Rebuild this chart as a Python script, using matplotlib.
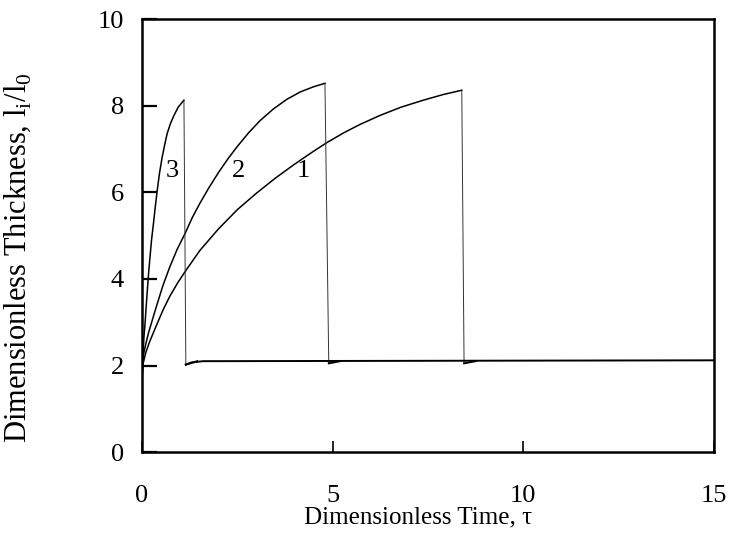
import matplotlib
matplotlib.use("Agg")
import matplotlib.pyplot as plt

plt.rcParams["font.family"] = ["Liberation Serif", "DejaVu Serif"]
plt.rcParams["mathtext.fontset"] = "custom"
plt.rcParams["mathtext.rm"] = "Liberation Serif"

# growth branch of each run, then the drop back to the base thickness
tau_1 = [0, 0.03, 0.1, 0.2, 0.39, 0.55, 0.73, 0.95, 1.17, 1.52, 2.0, 2.5, 3.0, 3.5,
         4.0, 4.5, 4.85, 5.3, 5.72, 6.25, 6.8, 7.38, 7.9, 8.39]
l_1 = [1.7, 2.05, 2.3, 2.55, 2.95, 3.28, 3.6, 3.93, 4.22, 4.66, 5.15, 5.6, 5.98, 6.33,
       6.65, 6.95, 7.15, 7.38, 7.57, 7.78, 7.97, 8.13, 8.26, 8.36]

tau_2 = [0, 0.02, 0.05, 0.1, 0.17, 0.27, 0.39, 0.55, 0.73, 0.92, 1.13, 1.32, 1.52,
         1.75, 2.0, 2.25, 2.49, 2.8, 3.1, 3.45, 3.8, 4.15, 4.5, 4.8]
l_2 = [1.7, 2.1, 2.3, 2.5, 2.75, 3.05, 3.4, 3.85, 4.28, 4.68, 5.05, 5.42, 5.75,
       6.1, 6.45, 6.77, 7.05, 7.38, 7.66, 7.93, 8.15, 8.32, 8.44, 8.52]

tau_3 = [0, 0.01, 0.03, 0.05, 0.08, 0.11, 0.14, 0.17, 0.21, 0.25, 0.3, 0.35, 0.4,
         0.46, 0.53, 0.6, 0.66, 0.75, 0.84, 0.95, 1.1]
l_3 = [1.7, 2.0, 2.3, 2.65, 2.98, 3.37, 3.74, 4.1, 4.51, 4.9, 5.28, 5.68, 6.05,
       6.45, 6.82, 7.12, 7.36, 7.6, 7.78, 7.97, 8.13]

drop_tau = [8.45, 4.9, 1.15]
drop_l = [2.05, 2.05, 2.02]

# base level after the drop
base_tau = [1.15, 1.3, 1.6, 15]
base_l = [2.02, 2.07, 2.1, 2.12]

labels = ["1", "2", "3"]
label_tau = [4.23, 2.52, 0.79]
label_l = [6.5, 6.5, 6.5]

fig = plt.figure(figsize=(7.32, 5.35), dpi=100)
ax = fig.add_axes([0.194, 0.155, 0.781, 0.809])

for t, l, dt, dl in zip([tau_1, tau_2, tau_3], [l_1, l_2, l_3], drop_tau, drop_l):
    ax.plot(t, l, color="black", lw=1.1)
    ax.plot([t[-1], dt], [l[-1], dl], color="#333333", lw=0.7)
    ax.plot([dt, dt + 0.3], [dl, 2.1], color="black", lw=1.4)
ax.plot(base_tau, base_l, color="black", lw=1.4)

for s, x, y in zip(labels, label_tau, label_l):
    ax.text(x, y, s, fontsize=19, ha="center", va="center")

ax.set_xlim(0, 15)
ax.set_ylim(0, 10)
ax.set_xticks([0, 5, 10, 15])
ax.set_yticks([0, 2, 4, 6, 8, 10])
ax.tick_params(axis="x", direction="in", length=8, width=1.2, pad=24, labelsize=19)
ax.tick_params(axis="y", direction="in", length=11, width=1.6, pad=13, labelsize=19)
for sp in ax.spines.values():
    sp.set_linewidth(1.8)

ax.set_xlabel("Dimensionless Time, τ", fontsize=18)
ax.xaxis.set_label_coords(0.483, -0.125)
ax.set_ylabel(r"Dimensionless Thickness, l$_\mathregular{i}$/l$_\mathregular{0}$",
              fontsize=22)
ax.yaxis.set_label_coords(-0.19, 0.45)

fig.savefig("out.png", dpi=100)
